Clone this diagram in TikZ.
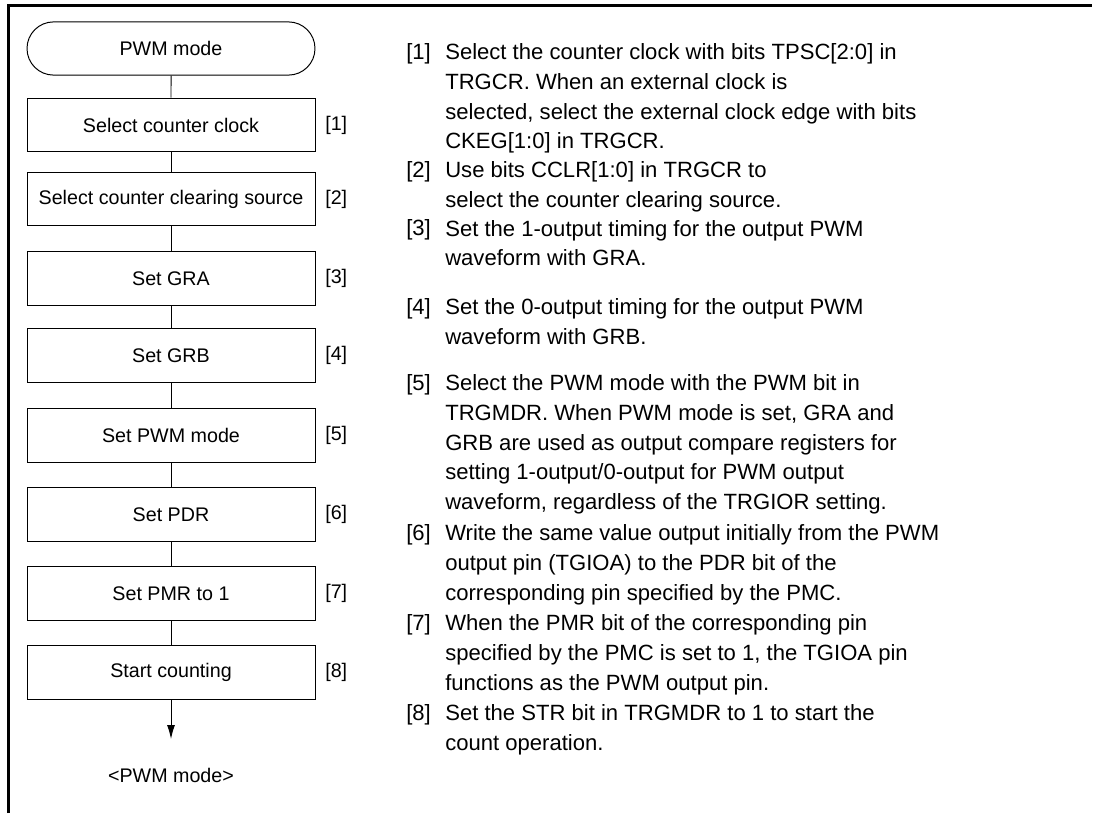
\documentclass[tikz,border=0pt]{standalone}
\usepackage{fontspec}
\setmainfont{Liberation Sans}
\usetikzlibrary{shapes.misc,arrows.meta}

\begin{document}
\begin{tikzpicture}[auto,
    stepbox/.style={rectangle, draw, line width=0.7pt, minimum width=7.2cm, minimum height=1.34cm, inner sep=0pt, font=\fontsize{14}{17}\selectfont},
    termbox/.style={rounded rectangle, draw, line width=0.7pt, minimum width=7.2cm, minimum height=1.33cm, inner sep=0pt, font=\fontsize{14}{17}\selectfont},
    steplabel/.style={anchor=west, inner sep=0pt, font=\fontsize{14}{17}\selectfont},
    descnum/.style={anchor=base west, inner sep=0pt, font=\fontsize{15.7}{21.1}\selectfont},
    desc/.style={anchor=north west, inner sep=0pt, align=left, font=\fontsize{15.7}{21.1}\selectfont}]

    \useasboundingbox (0,0) rectangle (27.4,-20.325);

    % outer frame
    \draw[line width=2.1pt] (0.2125,-20.325) -- (0.2125,-0.1375) -- (27.3,-0.1375);

    % flow
    \node (t0) [termbox] at (4.275, -1.2125) {PWM mode};
    \node (s1) [stepbox] at (4.275, -3.125) {Select counter clock};
    \node (s2) [stepbox] at (4.275, -4.975) {Select counter clearing source};
    \node (s3) [stepbox] at (4.275, -6.9625) {Set GRA};
    \node (s4) [stepbox] at (4.275, -8.8875) {Set GRB};
    \node (s5) [stepbox] at (4.275, -10.8875) {Set PWM mode};
    \node (s6) [stepbox] at (4.275, -12.8625) {Set PDR};
    \node (s7) [stepbox] at (4.275, -14.8375) {Set PMR to 1};
    \node (s8) [stepbox] at (4.275, -16.8125) {Start counting};
    \coordinate (tip) at (4.275, -18.475);
    \node (t1) [font=\fontsize{14}{17}\selectfont] at (4.275, -19.375) {<PWM mode>};

    \node (l1) [steplabel] at (8.125, -3.125) {[1]};
    \node (l2) [steplabel] at (8.125, -4.975) {[2]};
    \node (l3) [steplabel] at (8.125, -6.9625) {[3]};
    \node (l4) [steplabel] at (8.125, -8.8875) {[4]};
    \node (l5) [steplabel] at (8.125, -10.8875) {[5]};
    \node (l6) [steplabel] at (8.125, -12.8625) {[6]};
    \node (l7) [steplabel] at (8.125, -14.8375) {[7]};
    \node (l8) [steplabel] at (8.125, -16.8125) {[8]};

    \path[line width=0.7pt]
    (t0) edge (s1)
    (s1) edge (s2)
    (s2) edge (s3)
    (s3) edge (s4)
    (s4) edge (s5)
    (s5) edge (s6)
    (s6) edge (s7)
    (s7) edge (s8)
    (s8) edge[-{Latex[length=0.35cm, width=0.2cm]}] (tip);

    % notes
    \node (n1) [descnum] at (10.15, -1.4875) {[1]};
    \node (d1) [desc] at (11.125, -0.968) {\strut Select the counter clock with bits TPSC[2:0] in\\TRGCR. When an external clock is\\selected, select the external clock edge with bits\\CKEG[1:0] in TRGCR.};
    \node (n2) [descnum] at (10.15, -4.4375) {[2]};
    \node (d2) [desc] at (11.125, -3.918) {\strut Use bits CCLR[1:0] in TRGCR to\\select the counter clearing source.};
    \node (n3) [descnum] at (10.15, -5.895) {[3]};
    \node (d3) [desc] at (11.125, -5.376) {\strut Set the 1-output timing for the output PWM\\waveform with GRA.};
    \node (n4) [descnum] at (10.15, -7.8625) {[4]};
    \node (d4) [desc] at (11.125, -7.343) {\strut Set the 0-output timing for the output PWM\\waveform with GRB.};
    \node (n5) [descnum] at (10.15, -9.7625) {[5]};
    \node (d5) [desc] at (11.125, -9.243) {\strut Select the PWM mode with the PWM bit in\\TRGMDR. When PWM mode is set, GRA and\\GRB are used as output compare registers for\\setting 1-output/0-output for PWM output\\waveform, regardless of the TRGIOR setting.};
    \node (n6) [descnum] at (10.15, -13.5125) {[6]};
    \node (d6) [desc] at (11.125, -12.993) {\strut Write the same value output initially from the PWM\\output pin (TGIOA) to the PDR bit of the\\corresponding pin specified by the PMC.};
    \node (n7) [descnum] at (10.15, -15.7625) {[7]};
    \node (d7) [desc] at (11.125, -15.243) {\strut When the PMR bit of the corresponding pin\\specified by the PMC is set to 1, the TGIOA pin\\functions as the PWM output pin.};
    \node (n8) [descnum] at (10.15, -18.0125) {[8]};
    \node (d8) [desc] at (11.125, -17.493) {\strut Set the STR bit in TRGMDR to 1 to start the\\count operation.};
\end{tikzpicture}
\end{document}
